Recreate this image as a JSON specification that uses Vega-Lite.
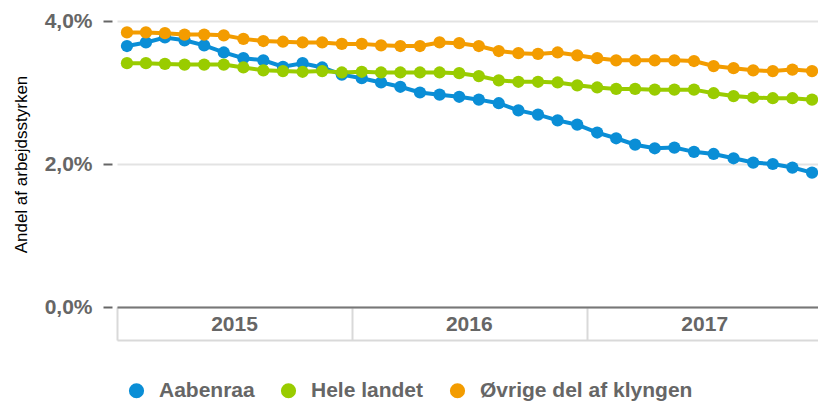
{
  "$schema": "https://vega.github.io/schema/vega-lite/v6.json",
  "width": 701,
  "height": 286,
  "autosize": {"type": "none"},
  "padding": {"left": 117, "top": 21, "right": 0, "bottom": 95},
  "background": "white",
  "config": {"font": "Liberation Sans", "view": {"stroke": null}},
  "datasets": {
    "d": [
      {"m":"2015-01","s":"Aabenraa","v":3.65},{"m":"2015-02","s":"Aabenraa","v":3.70},{"m":"2015-03","s":"Aabenraa","v":3.77},{"m":"2015-04","s":"Aabenraa","v":3.73},{"m":"2015-05","s":"Aabenraa","v":3.66},{"m":"2015-06","s":"Aabenraa","v":3.56},{"m":"2015-07","s":"Aabenraa","v":3.48},{"m":"2015-08","s":"Aabenraa","v":3.45},{"m":"2015-09","s":"Aabenraa","v":3.36},{"m":"2015-10","s":"Aabenraa","v":3.41},{"m":"2015-11","s":"Aabenraa","v":3.35},{"m":"2015-12","s":"Aabenraa","v":3.25},
      {"m":"2016-01","s":"Aabenraa","v":3.20},{"m":"2016-02","s":"Aabenraa","v":3.14},{"m":"2016-03","s":"Aabenraa","v":3.08},{"m":"2016-04","s":"Aabenraa","v":3.00},{"m":"2016-05","s":"Aabenraa","v":2.97},{"m":"2016-06","s":"Aabenraa","v":2.94},{"m":"2016-07","s":"Aabenraa","v":2.90},{"m":"2016-08","s":"Aabenraa","v":2.85},{"m":"2016-09","s":"Aabenraa","v":2.75},{"m":"2016-10","s":"Aabenraa","v":2.69},{"m":"2016-11","s":"Aabenraa","v":2.61},{"m":"2016-12","s":"Aabenraa","v":2.55},
      {"m":"2017-01","s":"Aabenraa","v":2.44},{"m":"2017-02","s":"Aabenraa","v":2.36},{"m":"2017-03","s":"Aabenraa","v":2.27},{"m":"2017-04","s":"Aabenraa","v":2.22},{"m":"2017-05","s":"Aabenraa","v":2.23},{"m":"2017-06","s":"Aabenraa","v":2.17},{"m":"2017-07","s":"Aabenraa","v":2.14},{"m":"2017-08","s":"Aabenraa","v":2.08},{"m":"2017-09","s":"Aabenraa","v":2.02},{"m":"2017-10","s":"Aabenraa","v":2.00},{"m":"2017-11","s":"Aabenraa","v":1.95},{"m":"2017-12","s":"Aabenraa","v":1.88},
      {"m":"2015-01","s":"Hele landet","v":3.41},{"m":"2015-02","s":"Hele landet","v":3.41},{"m":"2015-03","s":"Hele landet","v":3.40},{"m":"2015-04","s":"Hele landet","v":3.39},{"m":"2015-05","s":"Hele landet","v":3.39},{"m":"2015-06","s":"Hele landet","v":3.39},{"m":"2015-07","s":"Hele landet","v":3.35},{"m":"2015-08","s":"Hele landet","v":3.31},{"m":"2015-09","s":"Hele landet","v":3.30},{"m":"2015-10","s":"Hele landet","v":3.29},{"m":"2015-11","s":"Hele landet","v":3.30},{"m":"2015-12","s":"Hele landet","v":3.28},
      {"m":"2016-01","s":"Hele landet","v":3.29},{"m":"2016-02","s":"Hele landet","v":3.28},{"m":"2016-03","s":"Hele landet","v":3.28},{"m":"2016-04","s":"Hele landet","v":3.28},{"m":"2016-05","s":"Hele landet","v":3.28},{"m":"2016-06","s":"Hele landet","v":3.27},{"m":"2016-07","s":"Hele landet","v":3.23},{"m":"2016-08","s":"Hele landet","v":3.17},{"m":"2016-09","s":"Hele landet","v":3.15},{"m":"2016-10","s":"Hele landet","v":3.15},{"m":"2016-11","s":"Hele landet","v":3.14},{"m":"2016-12","s":"Hele landet","v":3.10},
      {"m":"2017-01","s":"Hele landet","v":3.07},{"m":"2017-02","s":"Hele landet","v":3.05},{"m":"2017-03","s":"Hele landet","v":3.05},{"m":"2017-04","s":"Hele landet","v":3.04},{"m":"2017-05","s":"Hele landet","v":3.04},{"m":"2017-06","s":"Hele landet","v":3.04},{"m":"2017-07","s":"Hele landet","v":2.99},{"m":"2017-08","s":"Hele landet","v":2.95},{"m":"2017-09","s":"Hele landet","v":2.93},{"m":"2017-10","s":"Hele landet","v":2.92},{"m":"2017-11","s":"Hele landet","v":2.92},{"m":"2017-12","s":"Hele landet","v":2.90},
      {"m":"2015-01","s":"Øvrige del af klyngen","v":3.84},{"m":"2015-02","s":"Øvrige del af klyngen","v":3.84},{"m":"2015-03","s":"Øvrige del af klyngen","v":3.83},{"m":"2015-04","s":"Øvrige del af klyngen","v":3.81},{"m":"2015-05","s":"Øvrige del af klyngen","v":3.81},{"m":"2015-06","s":"Øvrige del af klyngen","v":3.80},{"m":"2015-07","s":"Øvrige del af klyngen","v":3.75},{"m":"2015-08","s":"Øvrige del af klyngen","v":3.72},{"m":"2015-09","s":"Øvrige del af klyngen","v":3.71},{"m":"2015-10","s":"Øvrige del af klyngen","v":3.70},{"m":"2015-11","s":"Øvrige del af klyngen","v":3.70},{"m":"2015-12","s":"Øvrige del af klyngen","v":3.68},
      {"m":"2016-01","s":"Øvrige del af klyngen","v":3.68},{"m":"2016-02","s":"Øvrige del af klyngen","v":3.66},{"m":"2016-03","s":"Øvrige del af klyngen","v":3.65},{"m":"2016-04","s":"Øvrige del af klyngen","v":3.65},{"m":"2016-05","s":"Øvrige del af klyngen","v":3.70},{"m":"2016-06","s":"Øvrige del af klyngen","v":3.69},{"m":"2016-07","s":"Øvrige del af klyngen","v":3.65},{"m":"2016-08","s":"Øvrige del af klyngen","v":3.58},{"m":"2016-09","s":"Øvrige del af klyngen","v":3.55},{"m":"2016-10","s":"Øvrige del af klyngen","v":3.54},{"m":"2016-11","s":"Øvrige del af klyngen","v":3.56},{"m":"2016-12","s":"Øvrige del af klyngen","v":3.52},
      {"m":"2017-01","s":"Øvrige del af klyngen","v":3.48},{"m":"2017-02","s":"Øvrige del af klyngen","v":3.45},{"m":"2017-03","s":"Øvrige del af klyngen","v":3.45},{"m":"2017-04","s":"Øvrige del af klyngen","v":3.45},{"m":"2017-05","s":"Øvrige del af klyngen","v":3.45},{"m":"2017-06","s":"Øvrige del af klyngen","v":3.44},{"m":"2017-07","s":"Øvrige del af klyngen","v":3.37},{"m":"2017-08","s":"Øvrige del af klyngen","v":3.34},{"m":"2017-09","s":"Øvrige del af klyngen","v":3.31},{"m":"2017-10","s":"Øvrige del af klyngen","v":3.30},{"m":"2017-11","s":"Øvrige del af klyngen","v":3.32},{"m":"2017-12","s":"Øvrige del af klyngen","v":3.30}
    ]
  },
  "data": {"name": "d"},
  "encoding": {
    "y": {
      "field": "v", "type": "quantitative",
      "scale": {"domain": [0, 4]},
      "axis": {
        "title": "Andel af arbejdsstyrken", "titleFontSize": 17, "titleFontWeight": "normal", "titleColor": "#000", "titlePadding": 14,
        "values": [0, 2, 4],
        "labelExpr": "replace(format(datum.value, '.1f'), '.', ',') + '%'",
        "labelFontSize": 21, "labelFontWeight": "bold", "labelColor": "#666", "labelPadding": 11,
        "domain": false, "tickColor": "#666", "tickWidth": 2, "tickSize": 9, "offset": 5,
        "gridColor": "#e3e3e3", "gridWidth": 2
      }
    },
    "color": {
      "field": "s", "type": "nominal",
      "scale": {"range": ["#0a8ed6", "#99cc00", "#f39c00"]},
      "legend": {
        "orient": "none", "direction": "horizontal", "legendX": 9, "legendY": 359, "title": null,
        "symbolType": "circle", "symbolSize": 230, "symbolStrokeWidth": 0, "symbolOpacity": 1,
        "labelFontSize": 21, "labelFontWeight": "bold", "labelColor": "#666", "labelOffset": 12, "labelLimit": 0, "columnPadding": 23, "padding": 0
      }
    }
  },
  "layer": [
    {
      "mark": {"type": "line", "strokeWidth": 4},
      "encoding": {
        "x": {
          "field": "m", "timeUnit": "utcyearmonth", "type": "temporal", "bandPosition": 0.5,
          "scale": {"domain": [{"year": 2015, "month": 1, "date": 1, "utc": true}, {"year": 2018, "month": 1, "date": 1, "utc": true}], "range": [0, 705]},
          "axis": {
            "orient": "bottom", "title": null, "grid": false, "zindex": 1,
            "values": [{"year": 2015, "month": 1, "date": 1, "utc": true}, {"year": 2016, "month": 1, "date": 1, "utc": true}, {"year": 2017, "month": 1, "date": 1, "utc": true}],
            "labelExpr": "utcFormat(datum.value, '%Y')",
            "domainColor": "#777", "domainWidth": 2,
            "tickColor": "#d9d9d9", "tickWidth": 2, "tickSize": 33,
            "labelFontSize": 21, "labelFontWeight": "bold", "labelColor": "#666",
            "labelAlign": "center", "labelBaseline": "middle", "labelPadding": -16, "labelOffset": 117,
            "labelFlush": false, "labelOverlap": false, "labelBound": false
          }
        }
      }
    },
    {
      "mark": {"type": "point", "filled": true, "size": 150, "opacity": 1},
      "encoding": {
        "x": {
          "field": "m", "timeUnit": "utcyearmonth", "type": "temporal", "bandPosition": 0.5,
          "scale": {"domain": [{"year": 2015, "month": 1, "date": 1, "utc": true}, {"year": 2018, "month": 1, "date": 1, "utc": true}], "range": [0, 705]},
          "axis": {
            "orient": "bottom", "offset": 33, "title": null, "ticks": false, "labels": false, "grid": false,
            "domainColor": "#d9d9d9", "domainWidth": 2
          }
        }
      }
    }
  ],
  "resolve": {"axis": {"x": "independent"}}
}
